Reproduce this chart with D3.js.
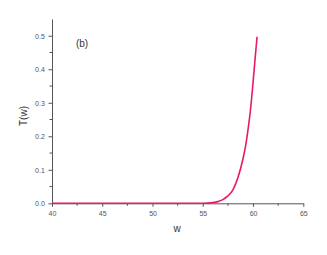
<!DOCTYPE html>
<html lang="en">
<head>
  <meta charset="UTF-8">
  <title>T(w)</title>
  <style>
    body { margin: 0; background: #fff; }
    text { font-family: Arial, 'Liberation Sans', sans-serif; }
  </style>
</head>
<body>
<svg id="svg" width="327" height="255"></svg>
<script src="https://d3js.org/d3.v7.min.js"></script>
<script>
  // values
  const wValues = [40, 45, 50, 54, 55, 55.5, 56, 56.5, 57, 57.5, 58, 58.5, 59, 59.25, 59.5, 59.75, 60, 60.2, 60.4]
  const tValues = [0, 0, 0, 0, 0.0002, 0.0006, 0.002, 0.005, 0.011, 0.022, 0.040, 0.077, 0.133, 0.170, 0.22, 0.28, 0.36, 0.43, 0.497]
  const xTicks = [40, 45, 50, 55, 60, 65]
  const yTicks = [0.0, 0.1, 0.2, 0.3, 0.4, 0.5]
  const xMinor = [42.5, 47.5, 52.5, 57.5, 62.5]
  const yMinor = [0.05, 0.15, 0.25, 0.35, 0.45]

  const data = wValues.map((w, i) => ({ w: w, t: tValues[i] }))

  const xScale = d3.scaleLinear().domain([40, 65]).range([52, 303.3])
  const yScale = d3.scaleLinear().domain([0, 0.55]).range([203.3, 19])

  const svg = d3.select('#svg')
  const axisColor = '#555'

  // bottom axis + minor ticks
  const xAxis = svg.append('g')
    .attr('transform', `translate(0,${yScale(0)})`)
    .call(d3.axisBottom(xScale).tickValues(xTicks).tickFormat(d3.format('d')).tickSize(3.5).tickSizeOuter(0))
  svg.append('g')
    .attr('transform', `translate(0,${yScale(0)})`)
    .selectAll('line')
    .data(xMinor)
    .enter()
    .append('line')
    .attr('x1', d => xScale(d))
    .attr('x2', d => xScale(d))
    .attr('y1', 0)
    .attr('y2', 2.5)
    .attr('stroke', axisColor)

  // left axis + minor ticks
  const yAxis = svg.append('g')
    .attr('transform', `translate(${xScale(40)},0)`)
    .call(d3.axisLeft(yScale).tickValues(yTicks).tickFormat(d3.format('.1f')).tickSize(3.5).tickSizeOuter(0))
  svg.append('g')
    .attr('transform', `translate(${xScale(40)},0)`)
    .selectAll('line')
    .data(yMinor)
    .enter()
    .append('line')
    .attr('x1', 0)
    .attr('x2', -2.5)
    .attr('y1', d => yScale(d))
    .attr('y2', d => yScale(d))
    .attr('stroke', axisColor)

  svg.selectAll('.domain, .tick line').attr('stroke', axisColor)
  xAxis.selectAll('text').attr('font-size', 7).attr('fill', '#555').attr('dy', '0.9em')
  yAxis.selectAll('text').attr('font-size', 7).attr('fill', '#555').attr('dx', '-0.1em')

  // curve
  svg.append('path')
    .datum(data)
    .attr('d', d3.line()
      .x(d => xScale(d.w))
      .y(d => yScale(d.t))
      .curve(d3.curveMonotoneX))
    .attr('fill', 'none')
    .attr('stroke', '#e8196a')
    .attr('stroke-width', 1.6)

  // labels
  svg.append('text')
    .text('w')
    .attr('x', 177)
    .attr('y', 232)
    .attr('text-anchor', 'middle')
    .attr('font-size', 10)
    .attr('fill', '#333')

  svg.append('text')
    .text('T(w)')
    .attr('transform', 'translate(27,116) rotate(-90)')
    .attr('text-anchor', 'middle')
    .attr('font-size', 10)
    .attr('fill', '#333')

  svg.append('text')
    .text('(b)')
    .attr('x', 82)
    .attr('y', 47)
    .attr('text-anchor', 'middle')
    .attr('font-size', 10)
    .attr('fill', '#333')
</script>
</body>
</html>
